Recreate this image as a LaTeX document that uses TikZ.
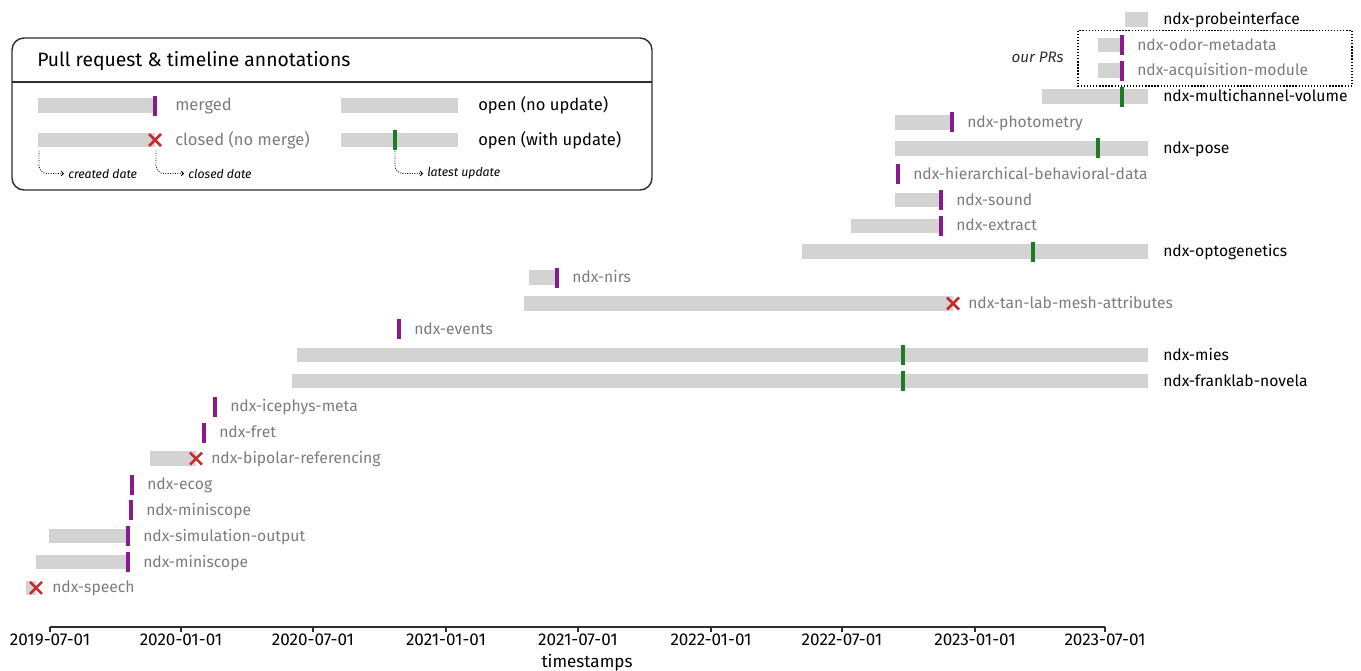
\documentclass[tikz,border=0pt]{standalone}
\usepackage{fontspec}
\setmainfont{Fira Sans}
\usetikzlibrary{arrows.meta}

\definecolor{barfill}{HTML}{D3D3D3}
\definecolor{mergepurple}{HTML}{8A1A8E}
\definecolor{updgreen}{HTML}{1E7B22}
\definecolor{closedred}{HTML}{C62A2A}
\definecolor{dimtext}{HTML}{7C7C7C}
\definecolor{framegray}{HTML}{2E2E2E}

\tikzset{
  prbar/.style={fill=barfill, draw=none},
  mergetick/.style={draw=mergepurple, line width=2.3pt},
  updtick/.style={draw=updgreen, line width=2.3pt},
  closedx/.style={draw=closedred, line width=1.9pt},
  lbl/.style={anchor=west, inner sep=0pt, text height=10.2pt, text depth=2.6pt,
    font=\fontsize{11.75}{14}\selectfont},
  dimlabel/.style={lbl, text=dimtext},
  openlabel/.style={lbl, text=black},
  leglabel/.style={anchor=west, inner sep=0pt, text height=10.8pt, text depth=2.7pt,
    font=\fontsize{12.4}{15}\selectfont},
  hint/.style={anchor=west, inner sep=0pt, font=\fontsize{9.2}{11}\itshape},
  hintarrow/.style={draw=black, line width=0.6pt, dash pattern=on 0.7pt off 1.1pt,
    rounded corners=6pt, -{Straight Barb[length=1.8pt,width=3.6pt]}},
  legendframe/.style={draw=framegray, line width=1.1pt},
  axisline/.style={draw=framegray, line width=1.1pt},
  ticklabel/.style={anchor=north, inner sep=0pt, font=\fontsize{12.8}{15}\selectfont},
}

% a PR span (x0,x1,y), a merge tick, an update tick, a close cross (x,y)
\newcommand\prSpan[3]{\fill[prbar] (#1,#3-7.25) rectangle (#2,#3+7.25);}
\newcommand\prMerged[2]{\draw[mergetick] (#1,#2-10) -- (#1,#2+10);}
\newcommand\prUpdate[2]{\draw[updtick] (#1,#2-10) -- (#1,#2+10);}
\newcommand\prClosed[2]{\draw[closedx] (#1-6,#2-6) -- (#1+6,#2+6) (#1-6,#2+6) -- (#1+6,#2-6);}

\begin{document}
\begin{tikzpicture}[x=0.75pt, y=-0.75pt]
\useasboundingbox (0,0) rectangle (1361,671);

% ---------- legend ----------
\draw[legendframe, rounded corners=9pt] (12,38) rectangle (652,190);
\draw[legendframe] (12,82) -- (652,82);
\node[anchor=west, inner sep=0pt, text height=11.2pt, text depth=3pt,
  font=\fontsize{14.5}{17}\selectfont] (legtitle) at (37,61)
  {Pull request \& timeline annotations};

\prSpan{38}{155}{105.5}\prMerged{155}{105.5}
\node[leglabel, text=dimtext] (lgmerged) at (175,105.5) {merged};
\prSpan{38}{155}{140}\prClosed{155}{140}
\node[leglabel, text=dimtext] (lgclosed) at (175,140) {closed (no merge)};
\prSpan{341}{458}{105.5}
\node[leglabel] (lgopen) at (478,105.5) {open (no update)};
\prSpan{341}{458}{140}\prUpdate{395}{140}
\node[leglabel] (lgopenupd) at (478,140) {open (with update)};

\coordinate (hcreated) at (39,150.5);
\coordinate (hclosed) at (156,150.5);
\coordinate (hlatest) at (395,151);
\node[hint] (tcreated) at (68,173.5) {created date};
\node[hint] (tclosed) at (188,173.5) {closed date};
\node[hint] (tlatest) at (427,173.5) {latest update};
\draw[hintarrow] (hcreated) |- ([xshift=-3pt]tcreated.west);
\draw[hintarrow] (hclosed) |- ([xshift=-3pt]tclosed.west);
\draw[hintarrow] (hlatest) |- ([xshift=-3pt]tlatest.west);

% ---------- our PRs ----------
\draw[line width=0.8pt, dash pattern=on 1pt off 1.3pt] (1078,30.5) rectangle (1352,86);
\node[anchor=east, inner sep=0pt, text=framegray, font=\fontsize{11.4}{13}\itshape] (ourprs) at (1064,57) {our PRs};

% ---------- timeline rows ----------
\prSpan{1125}{1148}{19.5}
\node[openlabel] (r0) at (1163,19.5) {ndx-probeinterface};

\prSpan{1098}{1122}{45}\prMerged{1122}{45}
\node[dimlabel] (r1) at (1137,45) {ndx-odor-metadata};

\prSpan{1098}{1122}{70.7}\prMerged{1122}{70.7}
\node[dimlabel] (r2) at (1137,70.7) {ndx-acquisition-module};

\prSpan{1042}{1148}{96.6}\prUpdate{1122}{96.6}
\node[openlabel] (r3) at (1163,96.6) {ndx-multichannel-volume};

\prSpan{895}{952}{122.4}\prMerged{952}{122.4}
\node[dimlabel] (r4) at (967,122.4) {ndx-photometry};

\prSpan{895}{1148}{148.3}\prUpdate{1098}{148.3}
\node[openlabel] (r5) at (1163,148.3) {ndx-pose};

\prSpan{896}{898}{174.2}\prMerged{898}{174.2}
\node[dimlabel] (r6) at (913,174.2) {ndx-hierarchical-behavioral-data};

\prSpan{895}{941}{200}\prMerged{941}{200}
\node[dimlabel] (r7) at (956,200) {ndx-sound};

\prSpan{851}{941}{225.9}\prMerged{941}{225.9}
\node[dimlabel] (r8) at (956,225.9) {ndx-extract};

\prSpan{802}{1148}{251.7}\prUpdate{1033}{251.7}
\node[openlabel] (r9) at (1163,251.7) {ndx-optogenetics};

\prSpan{529}{557}{277.6}\prMerged{557}{277.6}
\node[dimlabel] (r10) at (572,277.6) {ndx-nirs};

\prSpan{524}{953}{303.5}\prClosed{953}{303.5}
\node[dimlabel] (r11) at (968,303.5) {ndx-tan-lab-mesh-attributes};

\prSpan{397}{399}{329.3}\prMerged{399}{329.3}
\node[dimlabel] (r12) at (414,329.3) {ndx-events};

\prSpan{297}{1148}{355.2}\prUpdate{903}{355.2}
\node[openlabel] (r13) at (1163,355.2) {ndx-mies};

\prSpan{292}{1148}{381}\prUpdate{903}{381}
\node[openlabel] (r14) at (1163,381) {ndx-franklab-novela};

\prSpan{213}{215}{406.9}\prMerged{215}{406.9}
\node[dimlabel] (r15) at (230,406.9) {ndx-icephys-meta};

\prSpan{202}{204}{432.8}\prMerged{204}{432.8}
\node[dimlabel] (r16) at (219,432.8) {ndx-fret};

\prSpan{150}{196}{458.6}\prClosed{196}{458.6}
\node[dimlabel] (r17) at (211,458.6) {ndx-bipolar-referencing};

\prSpan{130}{132}{484.5}\prMerged{132}{484.5}
\node[dimlabel] (r18) at (147,484.5) {ndx-ecog};

\prSpan{129}{131}{510.3}\prMerged{131}{510.3}
\node[dimlabel] (r19) at (146,510.3) {ndx-miniscope};

\prSpan{49}{128}{536.2}\prMerged{128}{536.2}
\node[dimlabel] (r20) at (143,536.2) {ndx-simulation-output};

\prSpan{36}{128}{562.1}\prMerged{128}{562.1}
\node[dimlabel] (r21) at (143,562.1) {ndx-miniscope};

\prSpan{26}{36}{587.9}\prClosed{36}{587.9}
\node[dimlabel] (r22) at (52,587.9) {ndx-speech};

% ---------- time axis ----------
\draw[axisline] (50,627) -- (1105,627);
\foreach \tx/\tl [count=\ti] in {50/2019-07-01, 181/2020-01-01, 313/2020-07-01, 446/2021-01-01,
    578/2021-07-01, 711/2022-01-01, 842/2022-07-01, 975/2023-01-01, 1105/2023-07-01} {
  \draw[axisline] (\tx,627) -- (\tx,632);
  \node[ticklabel] (tick\ti) at (\tx,634) {\tl};
}
\node[anchor=north, inner sep=0pt, font=\fontsize{12.8}{15}\selectfont] (axtitle) at (587,654) {timestamps};

\end{tikzpicture}
\end{document}
